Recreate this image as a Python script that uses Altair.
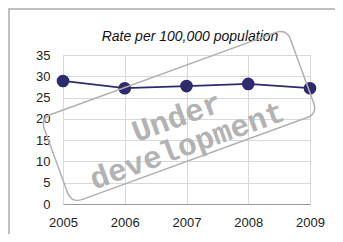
import altair as alt
import pandas as pd

years = [2005, 2006, 2007, 2008, 2009]
rates = [28.9, 27.2, 27.7, 28.2, 27.2]
y_ticks = [0, 5, 10, 15, 20, 25, 30, 35]
title_text = "Rate per 100,000 population"
stamp_lines = ["Under", "development"]

df = pd.DataFrame({"year": years, "rate": rates})

x_enc = alt.X("year:Q", scale=alt.Scale(domain=[2005, 2009], nice=False),
              axis=alt.Axis(values=years, format="d", title=None, ticks=False,
                            labelPadding=12, grid=True, gridColor="#d9d9d9",
                            domainColor="#9a9a9a", labelFontSize=13,
                            labelFlush=False, labelOverlap=False,
                            labelFont="Liberation Sans", labelColor="#222"))
y_enc = alt.Y("rate:Q", scale=alt.Scale(domain=[0, 35], nice=False),
              axis=alt.Axis(values=y_ticks, title=None, ticks=False, domain=False,
                            labelPadding=13, grid=True, gridColor="#d9d9d9",
                            labelFontSize=13, labelFont="Liberation Sans",
                            labelOverlap=False, labelFlush=False,
                            labelColor="#222"))

base = alt.Chart(df).encode(x=x_enc, y=y_enc)

line = base.mark_line(color="#2e2a6e", strokeWidth=1.8)
pts = base.mark_circle(color="#2e2a6e", size=160, opacity=1)

one = pd.DataFrame({"a": [0]})

frame = alt.Chart(one).mark_rect(
    filled=False, stroke="#bfbfc4", strokeWidth=2
).encode(x=alt.value(-54), x2=alt.value(320), y=alt.value(-46), y2=alt.value(220))

title = alt.Chart(one).mark_text(
    text=title_text, fontSize=14, fontStyle="italic", font="Liberation Sans",
    color="#111", align="center", baseline="middle"
).encode(x=alt.value(127), y=alt.value(-18))

stamp_path = ("M -0.91 -0.346 L 0.91 -0.346 Q 1 -0.346 1 -0.256 L 1 0.256 "
              "Q 1 0.346 0.91 0.346 L -0.91 0.346 Q -1 0.346 -1 0.256 "
              "L -1 -0.256 Q -1 -0.346 -0.91 -0.346 Z")
stamp_box = alt.Chart(one).mark_point(
    shape=stamp_path, filled=False, stroke="#b0b0b0", strokeWidth=1.5,
    size=262 * 262, angle=340, opacity=1
).encode(x=alt.value(116), y=alt.value(61))

stamp_text = alt.Chart(one).mark_text(
    text=stamp_lines, font="Liberation Mono", fontWeight="bold", fontSize=31,
    color="#b3b3b3", angle=340, lineHeight=30, align="center", baseline="middle"
).encode(x=alt.value(114), y=alt.value(63))

chart = alt.layer(frame, line, pts, title, stamp_text, stamp_box).properties(
    width=247, height=149,
    autosize=alt.AutoSizeParams(type="none"),
    padding={"left": 55, "top": 47, "right": 25, "bottom": 30},
).configure_view(stroke=None).configure(background="white")

chart.save("out.html", embed_options={"renderer": "svg", "actions": False})
